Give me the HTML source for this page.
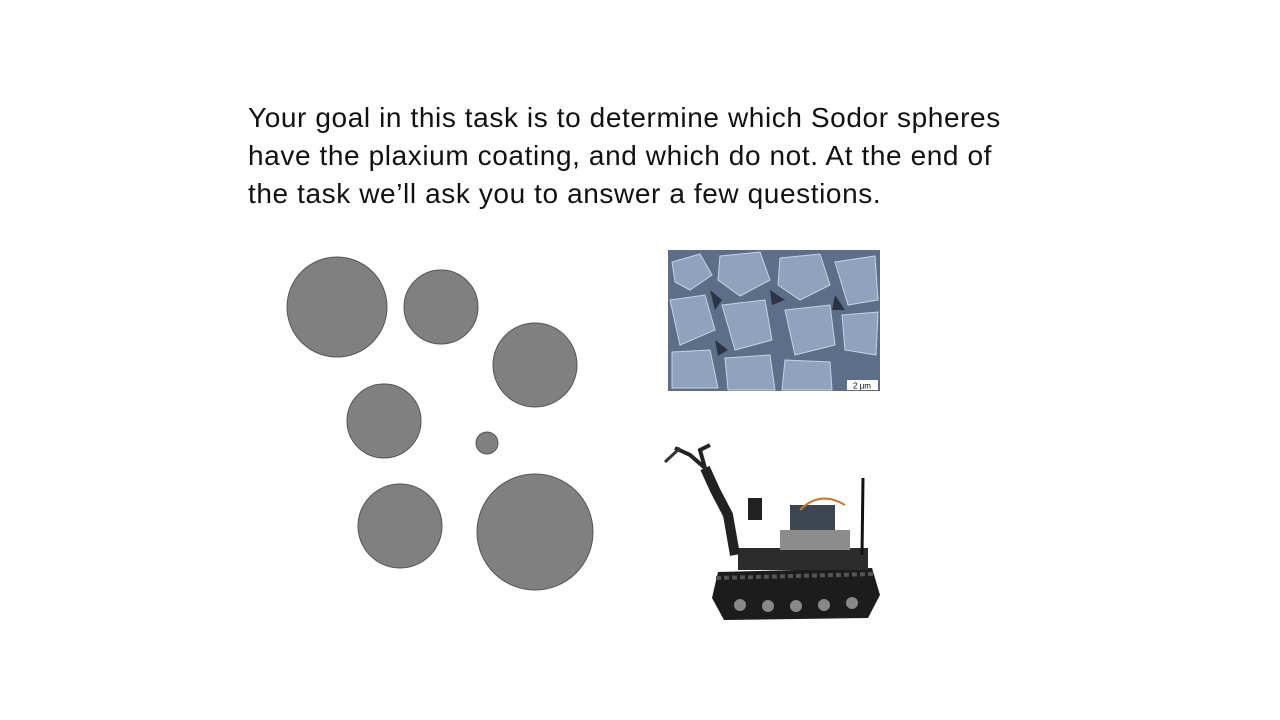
<!DOCTYPE html>
<html><head><meta charset="utf-8"><style>
html,body{margin:0;padding:0;background:#fff;width:1280px;height:720px;overflow:hidden}
.txt{position:absolute;left:248px;top:99px;font-family:"Liberation Sans",sans-serif;font-size:28px;letter-spacing:0.6px;line-height:38px;color:#111;white-space:nowrap}
svg{position:absolute;left:0;top:0}
</style></head><body>
<div class="txt">Your goal in this task is to determine which Sodor spheres<br>have the plaxium coating, and which do not. At the end of<br>the task we’ll ask you to answer a few questions.</div>
<svg width="1280" height="720">
<g fill="#808080" stroke="#555" stroke-width="1">
<circle cx="337" cy="307" r="50"/>
<circle cx="441" cy="307" r="37"/>
<circle cx="535" cy="365" r="42"/>
<circle cx="384" cy="421" r="37"/>
<circle cx="487" cy="443" r="11"/>
<circle cx="400" cy="526" r="42"/>
<circle cx="535" cy="532" r="58"/>
</g>
<g>
<rect x="668" y="250" width="212" height="141" fill="#5d6f88"/>
<g fill="#8fa3bf" stroke="#c6d3e6" stroke-width="1">
<polygon points="672,262 700,254 712,275 690,290 675,282"/>
<polygon points="720,256 760,252 770,280 740,296 718,280"/>
<polygon points="780,258 820,254 830,285 800,300 778,285"/>
<polygon points="835,262 875,256 878,300 848,305"/>
<polygon points="670,300 705,295 715,330 680,345"/>
<polygon points="722,305 765,300 772,340 735,350"/>
<polygon points="785,310 830,305 835,345 795,355"/>
<polygon points="842,315 878,312 876,355 845,350"/>
<polygon points="672,352 710,350 718,388 672,388"/>
<polygon points="725,358 770,355 775,390 728,390"/>
<polygon points="785,360 830,362 832,390 782,390"/>
</g>
<g fill="#2a3445"><polygon points="710,290 722,300 715,310"/><polygon points="770,290 785,300 772,305"/><polygon points="835,295 845,310 832,310"/><polygon points="715,340 728,350 718,356"/></g>
<rect x="847" y="380" width="31" height="10" fill="#fff"/>
<text x="862" y="388.5" font-family="Liberation Sans,sans-serif" font-size="8" text-anchor="middle" fill="#000">2 µm</text>
</g>
<g>
<path d="M718,572 L872,568 L880,595 L868,618 L724,620 L712,598 Z" fill="#1c1c1c"/>
<path d="M716,578 L874,574" stroke="#555" stroke-width="4" stroke-dasharray="5 3"/>
<g fill="#888"><circle cx="740" cy="605" r="6"/><circle cx="768" cy="606" r="6"/><circle cx="796" cy="606" r="6"/><circle cx="824" cy="605" r="6"/><circle cx="852" cy="603" r="6"/></g>
<rect x="738" y="548" width="130" height="22" fill="#2c2c2c"/>
<rect x="780" y="530" width="70" height="20" fill="#8c8c8c"/>
<rect x="790" y="505" width="45" height="25" fill="#3d4650"/>
<path d="M800,510 Q820,490 845,505" stroke="#c47a30" stroke-width="2" fill="none"/>
<line x1="863" y1="478" x2="862" y2="555" stroke="#111" stroke-width="3"/>
<path d="M735,555 L728,515 L715,490 L705,468" stroke="#222" stroke-width="10" fill="none"/>
<rect x="748" y="498" width="14" height="22" fill="#222"/>
<path d="M705,468 L690,455 L675,448 M705,468 L700,450 L710,445" stroke="#222" stroke-width="4" fill="none"/>
<path d="M665,462 L680,448" stroke="#333" stroke-width="3"/>
</g>
</svg>
</body></html>
